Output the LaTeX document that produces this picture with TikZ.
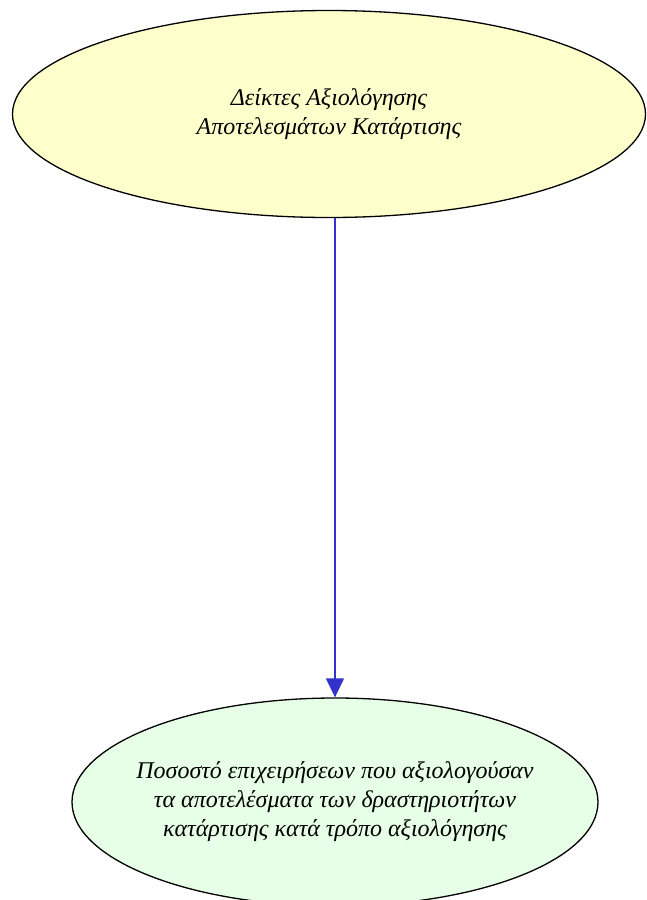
\documentclass[tikz,border=0pt]{standalone}
\usepackage{fontspec}
\setmainfont{Liberation Serif}
\usepackage{tikz}
\usetikzlibrary{positioning,shapes.geometric,arrows.meta}
\definecolor{paleyellow}{HTML}{FFFFCC}
\definecolor{palegreen}{HTML}{E6FFE6}
\definecolor{linkblue}{HTML}{3333CC}

\begin{document}
\begin{tikzpicture}[
		x=1pt, y=-1pt,
		>={Triangle[length=19pt,width=18pt]},
		line cap=round,
		topic/.style={
			ellipse,
			draw=black,
			line width=1.3pt,
			inner xsep=-20pt,
			inner ysep=0pt,
			font=\fontsize{24}{29}\selectfont\itshape,
			align=center
		}
	]
				\useasboundingbox (0,0) rectangle (646,900);
				\node[
					topic,
					fill=paleyellow,
					minimum width=633pt,
					minimum height=207pt
				]
					(indicators) at (329,114)
					{Δείκτες Αξιολόγησης\\Αποτελεσμάτων Κατάρτισης};
				\node[
					topic,
					fill=palegreen,
					minimum width=526pt,
					minimum height=208pt
				]
					(share) at (335,802)
					{Ποσοστό επιχειρήσεων που αξιολογούσαν\\τα αποτελέσματα των δραστηριοτήτων\\κατάρτισης κατά τρόπο αξιολόγησης};
				\draw[
					->,
					linkblue,
					line width=1.3pt
				]
					(indicators.south -| share.north) -- (share.north);
			\end{tikzpicture}
\end{document}
